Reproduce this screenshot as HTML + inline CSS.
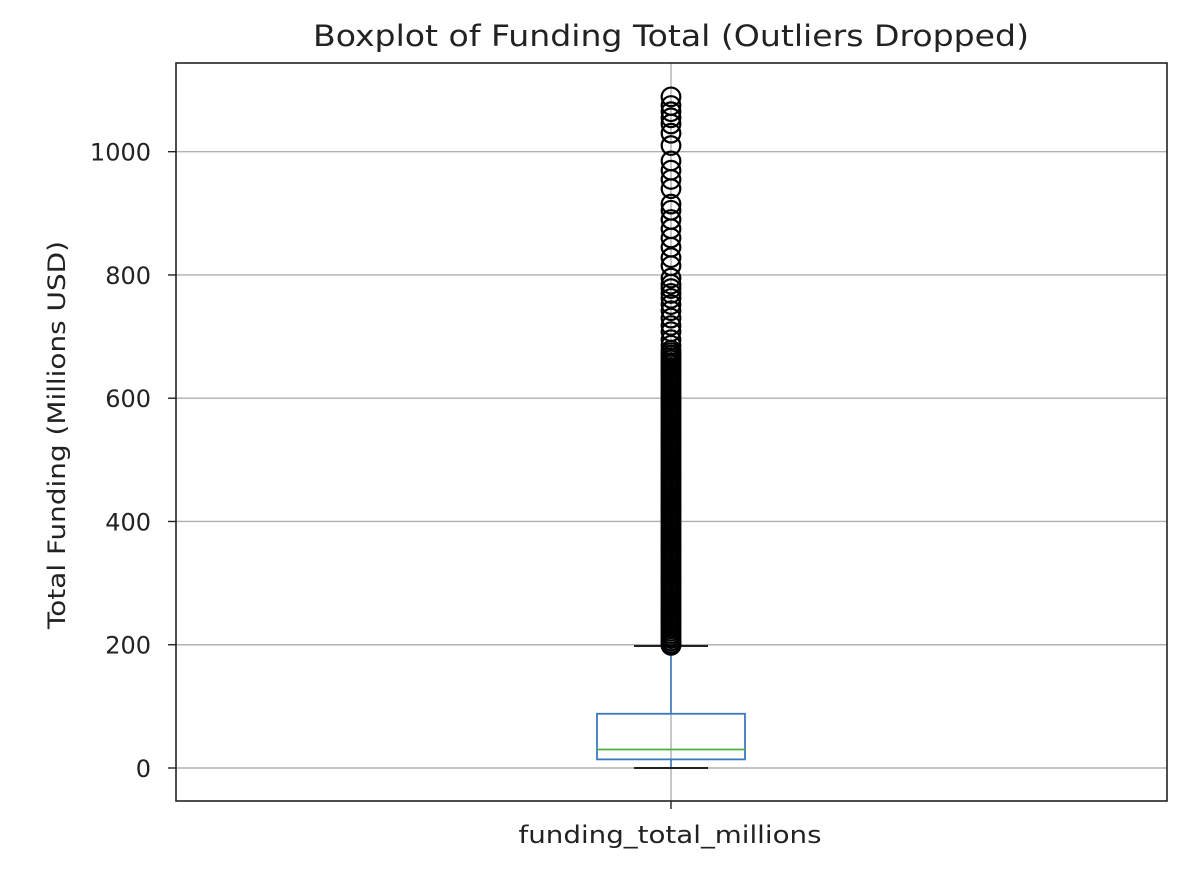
<!DOCTYPE html>
<html><head><meta charset="utf-8"><style>
body{margin:0;background:#fff;}
svg text{font-family:"DejaVu Sans","Liberation Sans",sans-serif;fill:#222;}
</style></head><body>
<svg width="1186" height="876">
<rect width="1186" height="876" fill="#fff"/>
<g id="grid"></g>
<g id="box"></g>
<g id="axes"></g>
<text x="671" y="46" font-size="29" text-anchor="middle" textLength="716" lengthAdjust="spacingAndGlyphs">Boxplot of Funding Total (Outliers Dropped)</text>
<text transform="translate(65,435) rotate(-90)" font-size="24" text-anchor="middle" textLength="388" lengthAdjust="spacingAndGlyphs">Total Funding (Millions USD)</text>
<text x="670" y="843" font-size="24" text-anchor="middle" textLength="303" lengthAdjust="spacingAndGlyphs">funding_total_millions</text>
</svg>
<script>
const yTicks=[0,200,400,600,800,1000];
const stats={q1:14,median:30,q3:88,whiskLo:0,whiskHi:198};
const outliers=[1089,1075,1065,1055,1045,1030,1010,985,970,955,940,915,905,890,875,860,845,828,815,795,785,
778,770,762,752,742,730,718,708,695,686,
678,674,670,666,662,658,654,650,646,642,638,634,630,626,622,618,614,610,606,602,598,594,590,586,582,578,574,570,566,562,558,554,550,546,542,538,534,530,526,522,518,514,510,506,502,498,494,490,486,482,478,474,470,466,462,458,454,450,446,442,438,434,430,426,422,418,414,410,406,402,398,394,390,386,382,378,374,370,366,362,358,354,350,346,342,338,334,330,326,322,318,314,310,306,302,298,294,290,286,282,278,274,270,266,262,258,254,250,246,242,238,234,230,226,222,218,214,210,206,202,199];
const L=176,R=1167,T=63,B=801,cx=671,hw=74,capw=37;
const y=v=>768-v*0.6163;
const NS='http://www.w3.org/2000/svg';
function mk(tag,attrs,parent){const e=document.createElementNS(NS,tag);for(const k in attrs)e.setAttribute(k,attrs[k]);parent.appendChild(e);return e;}
const grid=document.getElementById('grid'),axes=document.getElementById('axes'),box=document.getElementById('box');
yTicks.forEach(t=>{
  const g=mk('line',{x1:L,x2:R,y1:y(t),y2:y(t),stroke:'#b0b0b0','stroke-width':1.4},grid);
  
  
  const tk=mk('line',{x1:L-8,x2:L,y1:y(t),y2:y(t),stroke:'#222','stroke-width':1.4},axes);
  
  
  const tx=mk('text',{x:L-25,y:y(t)+9,'font-size':24,'text-anchor':'end'},axes);
  tx.textContent=t;
  
  
});
const vg=mk('line',{x1:cx,x2:cx,y1:T,y2:B,stroke:'#b0b0b0','stroke-width':1.4},grid);


const xt=mk('line',{x1:cx,x2:cx,y1:B,y2:B+8,stroke:'#222','stroke-width':1.4},axes);


const fr=mk('rect',{x:L,y:T,width:R-L,height:B-T,fill:'none',stroke:'#222','stroke-width':1.6},axes);


const w1=mk('line',{x1:cx,x2:cx,y1:y(stats.q3),y2:y(stats.whiskHi),stroke:'#3b78c0','stroke-width':1.6},box);


const w2=mk('line',{x1:cx,x2:cx,y1:y(stats.q1),y2:y(stats.whiskLo),stroke:'#3b78c0','stroke-width':1.6},box);


const bx=mk('rect',{x:cx-hw,y:y(stats.q3),width:2*hw,height:y(stats.q1)-y(stats.q3),fill:'none',stroke:'#3b78c0','stroke-width':1.8},box);


const md=mk('line',{x1:cx-hw,x2:cx+hw,y1:y(stats.median),y2:y(stats.median),stroke:'#4caf3a','stroke-width':1.8},box);


[stats.whiskHi,stats.whiskLo].forEach(v=>{
  const c=mk('line',{x1:cx-capw,x2:cx+capw,y1:y(v),y2:y(v),stroke:'#222','stroke-width':2},box);
  
  
});
outliers.forEach(v=>{
  const c=mk('circle',{cx:cx,cy:y(v),r:9.3,fill:'none',stroke:'#000','stroke-width':2.2},box);
  
  
});
</script>
</body></html>
